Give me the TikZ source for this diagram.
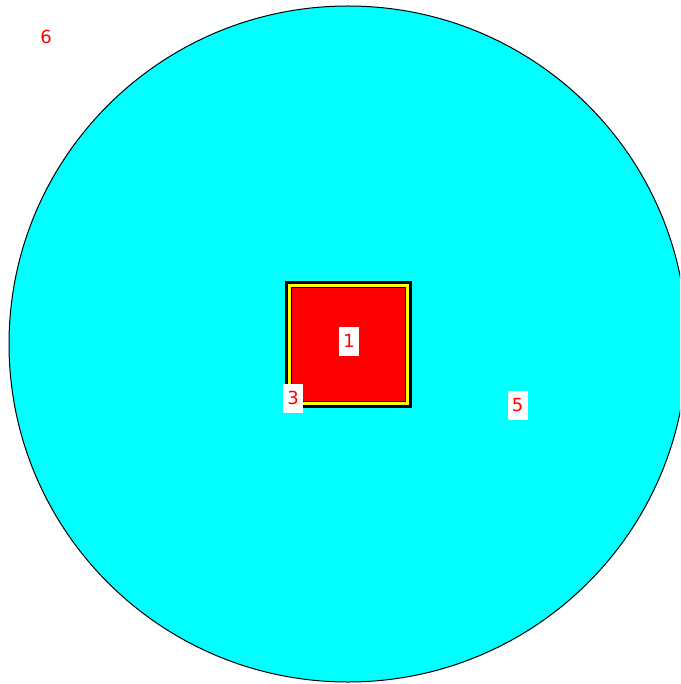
\documentclass[tikz,border=0pt]{standalone}
\usepackage{fontspec}
\setmainfont{DejaVu Sans}
\definecolor{cyanfill}{RGB}{0,255,255}
\definecolor{redfill}{RGB}{255,0,0}
\definecolor{yel}{RGB}{255,255,0}
\begin{document}
\begin{tikzpicture}[x=1pt,y=-1pt,
  lbl/.style={fill=white,text=red,font=\fontsize{18}{18}\selectfont,inner sep=0pt,minimum width=20pt,minimum height=29pt},
  plain/.style={text=red,font=\fontsize{18}{18}\selectfont,inner sep=0pt}]
\useasboundingbox (0,0) rectangle (680,684);
\begin{scope}
\clip (0,0) rectangle (680,684);
\draw[fill=cyanfill,line width=1pt] (348,344) ellipse[x radius=339,y radius=338];
\end{scope}
\fill[black] (285,281) rectangle (412,408);
\fill[yel] (288,284) rectangle (409,405);
\fill[black] (291,287) rectangle (406,402);
\fill[redfill] (292,288) rectangle (405,401);
\node[lbl] (n1) at (349,341) {1};
\node[lbl] (n3) at (293,398) {3};
\node[lbl] (n5) at (517.5,405) {5};
\node[plain] (n6) at (46,37) {6};
\end{tikzpicture}
\end{document}
